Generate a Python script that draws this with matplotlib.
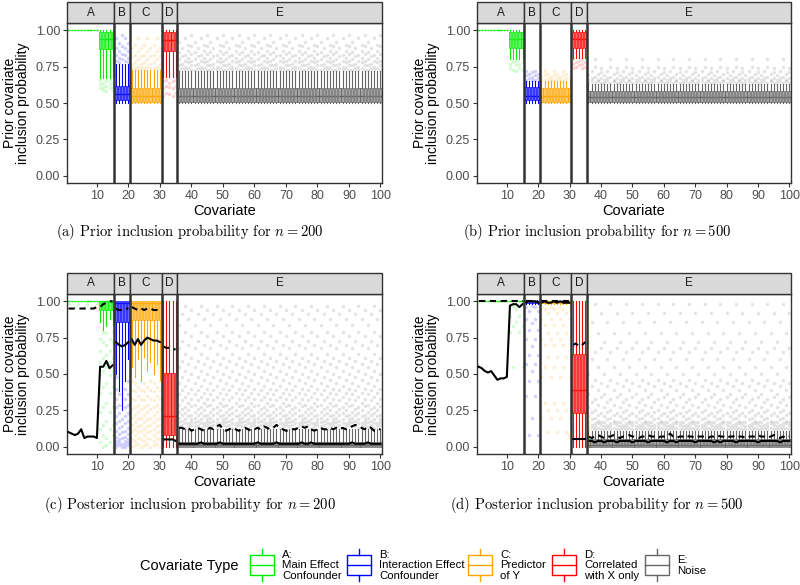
import matplotlib
matplotlib.use("Agg")
import matplotlib.pyplot as plt
import numpy as np
from matplotlib.colors import to_rgba
from matplotlib.patches import Rectangle
from matplotlib.transforms import blended_transform_factory

plt.rcParams['font.family'] = ['Liberation Sans', 'DejaVu Sans']
plt.rcParams['mathtext.fontset'] = 'cm'

# ---- data ---------------------------------------------------------------
covariates = np.arange(1, 101)
facet_names = ['A', 'B', 'C', 'D', 'E']
facet_first = [1, 16, 21, 31, 36]
facet_last = [15, 20, 30, 35, 100]
facet_colors = ['#00EE00', '#0000FF', '#FFA500', '#FF0000', '#666666']
legend_labels = ['A:\nMain Effect\nConfounder', 'B:\nInteraction Effect\nConfounder',
                 'C:\nPredictor\nof Y', 'D:\nCorrelated\nwith X only', 'E:\nNoise']

# box segments: A(1-10), A(11-15), B, C, D, E
seg_sizes = [10, 5, 5, 10, 5, 65]
seg_facet = [0, 0, 1, 2, 3, 4]

# (a) prior, n = 200
a_lo = [1.0, 0.67, 0.50, 0.50, 0.68, 0.50]
a_q1 = [1.0, 0.87, 0.52, 0.51, 0.86, 0.51]
a_med = [1.0, 0.94, 0.56, 0.55, 0.93, 0.55]
a_q3 = [1.0, 0.99, 0.62, 0.60, 0.99, 0.60]
a_hi = [1.0, 1.0, 0.77, 0.73, 1.0, 0.72]
a_out_A1 = [[]]
a_out_A2 = [[0.58, 0.62, 0.65], [0.60, 0.63, 0.66], [0.59, 0.61, 0.64]]
a_out_B = [[0.79, 0.83, 0.88, 0.95], [0.78, 0.81, 0.86, 0.91], [0.80, 0.84, 0.89, 0.97]]
a_out_C = [[0.74, 0.78, 0.83, 0.90], [0.75, 0.80, 0.86, 0.95], [0.74, 0.77, 0.82, 0.88]]
a_out_D = [[0.55, 0.60, 0.65], [0.57, 0.62, 0.66], [0.56, 0.61, 0.64]]
a_out_E = [[0.73, 0.76, 0.80, 0.85, 0.92], [0.74, 0.77, 0.82, 0.88],
           [0.73, 0.75, 0.79, 0.83, 0.95], [0.74, 0.78, 0.81, 0.86, 0.90],
           [0.73, 0.76, 0.79, 0.84, 0.89, 0.97]]

# (b) prior, n = 500
b_lo = [1.0, 0.80, 0.50, 0.50, 0.81, 0.50]
b_q1 = [1.0, 0.88, 0.52, 0.51, 0.88, 0.51]
b_med = [1.0, 0.94, 0.55, 0.55, 0.94, 0.54]
b_q3 = [1.0, 0.99, 0.61, 0.60, 0.99, 0.58]
b_hi = [1.0, 1.0, 0.65, 0.65, 1.0, 0.63]
b_out_A1 = [[]]
b_out_A2 = [[0.72, 0.76, 0.79], [0.74, 0.77], [0.73, 0.78]]
b_out_B = [[0.66, 0.69, 0.72], [0.67, 0.70], [0.66, 0.68, 0.71]]
b_out_C = [[0.66, 0.69, 0.72], [0.67, 0.70], [0.66, 0.68]]
b_out_D = [[0.74, 0.77, 0.80], [0.75, 0.78], [0.76, 0.79]]
b_out_E = [[0.64, 0.66, 0.69], [0.65, 0.67, 0.72], [0.64, 0.68, 0.75, 0.80],
           [0.65, 0.66, 0.70], [0.64, 0.67, 0.71, 0.74]]

# (c) posterior, n = 200
c_lo_cov = ([1.0] * 10 + [0.86, 0.80, 0.83, 0.88, 0.84] + [0.50, 0.38, 0.25, 0.45, 0.60]
            + [0.55, 0.48, 0.60, 0.45, 0.62, 0.52, 0.58, 0.50, 0.57, 0.46] + [0.0] * 5 + [0.0] * 65)
c_q1 = [1.0, 0.94, 0.86, 0.87, 0.08, 0.0]
c_med = [1.0, 1.0, 0.99, 0.99, 0.21, 0.01]
c_q3 = [1.0, 1.0, 1.0, 1.0, 0.51, 0.03]
c_hi = [1.0, 1.0, 1.0, 1.0, 1.0, 0.12]
c_out_A1 = [[0.98], [], [0.96]]
c_out_A2 = [[0.78, 0.70, 0.63, 0.55, 0.44, 0.30, 0.18, 0.06, 0.01],
            [0.74, 0.66, 0.58, 0.49, 0.37, 0.24, 0.12, 0.03],
            [0.79, 0.72, 0.61, 0.52, 0.41, 0.27, 0.15, 0.08, 0.0]]
c_out_B = [[0.48, 0.40, 0.33, 0.27, 0.21, 0.16, 0.11, 0.07, 0.04, 0.02, 0.0],
           [0.45, 0.36, 0.29, 0.23, 0.18, 0.13, 0.09, 0.05, 0.03, 0.01],
           [0.42, 0.34, 0.25, 0.19, 0.14, 0.10, 0.06, 0.02, 0.0]]
c_out_C = [[0.44, 0.38, 0.32, 0.27, 0.22, 0.17, 0.12, 0.08, 0.04, 0.01],
           [0.41, 0.35, 0.29, 0.24, 0.19, 0.14, 0.10, 0.06, 0.02],
           [0.45, 0.39, 0.33, 0.26, 0.20, 0.15, 0.11, 0.05, 0.0]]
c_out_D = [[]]
c_out_E = [[0.14, 0.17, 0.20, 0.24, 0.29, 0.36, 0.44, 0.55, 0.68, 0.84],
           [0.15, 0.18, 0.22, 0.26, 0.32, 0.39, 0.48, 0.59, 0.73, 0.91],
           [0.13, 0.16, 0.19, 0.23, 0.27, 0.34, 0.42, 0.52, 0.64, 0.79, 0.97],
           [0.14, 0.16, 0.21, 0.25, 0.30, 0.37, 0.46, 0.57, 0.70, 0.88],
           [0.15, 0.17, 0.19, 0.22, 0.28, 0.33, 0.40, 0.50, 0.61, 0.76, 0.94]]
c_solid = ([0.10, 0.09, 0.08, 0.09, 0.12, 0.06, 0.07, 0.07, 0.07, 0.06, 0.55, 0.55, 0.59, 0.54, 0.56]
           + [0.72, 0.70, 0.69, 0.70, 0.72]
           + [0.74, 0.70, 0.74, 0.70, 0.73, 0.75, 0.74, 0.73, 0.73, 0.72]
           + [0.05, 0.05, 0.05, 0.05, 0.04]
           + [0.02, 0.02, 0.02, 0.02, 0.02, 0.02, 0.02, 0.03, 0.02, 0.02, 0.02, 0.02, 0.02,
              0.03, 0.02, 0.02, 0.02, 0.02, 0.02, 0.02, 0.02, 0.02, 0.02, 0.02, 0.02, 0.03,
              0.02, 0.02, 0.02, 0.02, 0.02, 0.03, 0.02, 0.02, 0.02, 0.02, 0.02, 0.02, 0.02,
              0.03, 0.02, 0.02, 0.03, 0.02, 0.02, 0.02, 0.02, 0.02, 0.02, 0.02, 0.02, 0.02,
              0.02, 0.02, 0.02, 0.03, 0.02, 0.02, 0.02, 0.02, 0.03, 0.02, 0.02, 0.02, 0.02])
c_dashed = ([0.95, 0.95, 0.95, 0.95, 0.95, 0.95, 0.95, 0.95, 0.95, 0.96, 0.96, 0.98, 0.99, 1.0, 1.0]
            + [0.95, 0.94, 0.94, 0.95, 0.95]
            + [0.96, 0.95, 0.94, 0.95, 0.94, 0.95, 0.95, 0.94, 0.94, 0.93]
            + [0.69, 0.68, 0.68, 0.67, 0.67]
            + [0.13, 0.13, 0.12, 0.13, 0.11, 0.12, 0.13, 0.12, 0.11, 0.12, 0.13, 0.12, 0.14,
               0.15, 0.12, 0.11, 0.12, 0.13, 0.12, 0.11, 0.12, 0.13, 0.12, 0.11, 0.12, 0.13,
               0.12, 0.14, 0.13, 0.12, 0.13, 0.15, 0.13, 0.12, 0.11, 0.11, 0.12, 0.12, 0.13,
               0.14, 0.13, 0.14, 0.12, 0.11, 0.12, 0.13, 0.12, 0.12, 0.13, 0.12, 0.13, 0.12,
               0.13, 0.12, 0.13, 0.14, 0.15, 0.14, 0.13, 0.12, 0.14, 0.13, 0.11, 0.12, 0.12])

# (d) posterior, n = 500
d_lo = [1.0, 1.0, 0.98, 0.98, 0.0, 0.0]
d_q1 = [1.0, 1.0, 0.99, 0.99, 0.23, 0.0]
d_med = [1.0, 1.0, 1.0, 1.0, 0.39, 0.01]
d_q3 = [1.0, 1.0, 1.0, 1.0, 0.64, 0.05]
d_hi = [1.0, 1.0, 1.0, 1.0, 1.0, 0.11]
d_out_A1 = [[]]
d_out_A2 = [[0.95, 0.86], [0.90, 0.79], [0.97, 0.83, 0.55]]
d_out_B = [[0.96, 0.88, 0.74, 0.57, 0.35], [0.93, 0.80, 0.63, 0.45, 0.08],
           [0.97, 0.85, 0.69, 0.52, 0.20]]
d_out_C = [[0.95, 0.84, 0.70, 0.55, 0.30], [0.92, 0.78, 0.62, 0.25, 0.10],
           [0.96, 0.88, 0.74, 0.48, 0.20]]
d_out_D = [[]]
d_out_E = [[0.12, 0.14, 0.17, 0.21, 0.27, 0.36, 0.50, 0.72],
           [0.13, 0.15, 0.19, 0.24, 0.31, 0.42, 0.60, 0.86],
           [0.12, 0.14, 0.16, 0.20, 0.25, 0.33, 0.46, 0.65, 0.98],
           [0.13, 0.16, 0.18, 0.22, 0.29, 0.39, 0.55, 0.78],
           [0.12, 0.15, 0.17, 0.23, 0.34, 0.44, 0.68, 0.92]]
d_solid = ([0.55, 0.54, 0.52, 0.51, 0.52, 0.49, 0.46, 0.47, 0.47, 0.48, 0.97, 0.98, 0.98, 0.96, 0.98]
           + [0.99, 1.0, 1.0, 1.0, 0.99]
           + [0.99, 1.0, 0.99, 0.99, 1.0, 0.99, 1.0, 0.99, 0.99, 0.99]
           + [0.05, 0.05, 0.05, 0.05, 0.05]
           + [0.04, 0.04, 0.03, 0.04, 0.04, 0.03, 0.04, 0.04, 0.04, 0.03, 0.04, 0.04, 0.04,
              0.04, 0.03, 0.04, 0.04, 0.04, 0.04, 0.03, 0.04, 0.04, 0.04, 0.04, 0.04, 0.03,
              0.04, 0.04, 0.03, 0.04, 0.04, 0.04, 0.04, 0.04, 0.03, 0.04, 0.04, 0.04, 0.04,
              0.04, 0.03, 0.04, 0.03, 0.04, 0.04, 0.04, 0.04, 0.03, 0.04, 0.04, 0.04, 0.04,
              0.04, 0.04, 0.03, 0.04, 0.04, 0.04, 0.04, 0.04, 0.04, 0.03, 0.04, 0.04, 0.04])
d_dashed = ([1.0] * 15 + [1.0] * 5 + [1.0] * 10
            + [0.70, 0.71, 0.69, 0.70, 0.72]
            + [0.07, 0.06, 0.07, 0.08, 0.07, 0.06, 0.07, 0.07, 0.08, 0.07, 0.06, 0.07, 0.07,
               0.08, 0.07, 0.07, 0.06, 0.07, 0.07, 0.08, 0.07, 0.07, 0.06, 0.07, 0.07, 0.07,
               0.09, 0.07, 0.06, 0.07, 0.07, 0.08, 0.07, 0.07, 0.06, 0.07, 0.07, 0.07, 0.06,
               0.07, 0.07, 0.08, 0.07, 0.07, 0.06, 0.07, 0.07, 0.08, 0.07, 0.07, 0.06, 0.07,
               0.07, 0.07, 0.08, 0.07, 0.07, 0.06, 0.07, 0.08, 0.07, 0.06, 0.07, 0.06, 0.07])

y_ticks = [0.0, 0.25, 0.5, 0.75, 1.0]
y_ticklabels = ['0.00', '0.25', '0.50', '0.75', '1.00']
x_ticks = [10, 20, 30, 40, 50, 60, 70, 80, 90, 100]


# ---- drawing ------------------------------------------------------------
W, H = 800, 585
fig = plt.figure(figsize=(W / 100, H / 100), dpi=100)


def px_axes(left, top, right, bottom):
    return fig.add_axes([left / W, 1 - bottom / H, (right - left) / W, (bottom - top) / H])


def draw_panel(ax, lo, q1, med, q3, hi, outs, ylabel, solid=None, dashed=None):
    lo = np.asarray(lo if len(lo) == 100 else np.repeat(lo, seg_sizes))
    q1 = np.repeat(q1, seg_sizes)
    med = np.repeat(med, seg_sizes)
    q3 = np.repeat(q3, seg_sizes)
    hi = np.repeat(hi, seg_sizes)
    start = 0
    for s, n in enumerate(seg_sizes):
        col = facet_colors[seg_facet[s]]
        stats = []
        for k in range(start, start + n):
            variant = outs[s][k % len(outs[s])]
            fl = [v for v in variant if v < lo[k] or v > hi[k]]
            stats.append(dict(whislo=lo[k], q1=q1[k], med=med[k], q3=q3[k],
                              whishi=hi[k], fliers=fl))
        ax.bxp(stats, positions=covariates[start:start + n], widths=0.72,
               patch_artist=True, showcaps=False, manage_ticks=False,
               boxprops=dict(facecolor=to_rgba(col, 0.6), edgecolor=col, linewidth=0.5),
               whiskerprops=dict(color=col, linewidth=0.8),
               medianprops=dict(color=col, linewidth=1.0),
               flierprops=dict(marker='o', markersize=2.5, markerfacecolor=col,
                               markeredgecolor='none', alpha=0.18))
        start += n

    for f0, f1 in zip(facet_first, facet_last):
        sl = slice(f0 - 1, f1)
        if solid is not None:
            ax.plot(covariates[sl], np.asarray(solid)[sl], color='black', lw=1.5, zorder=5)
        if dashed is not None:
            ax.plot(covariates[sl], np.asarray(dashed)[sl], color='black', lw=1.5,
                    dashes=(3, 2.2), zorder=5)

    ax.set_xlim(0.5, 100.5)
    ax.set_ylim(-0.05, 1.05)
    ax.set_yticks(y_ticks)
    ax.set_yticklabels(y_ticklabels)
    ax.set_xticks(x_ticks)
    ax.tick_params(colors='#333333', labelcolor='#4D4D4D', labelsize=9, length=3,
                   width=0.8, pad=2)
    for sp in ax.spines.values():
        sp.set_color('#333333')
        sp.set_linewidth(1.0)
    for b in facet_last[:-1]:
        ax.axvline(b + 0.5, color='#333333', lw=1.8, zorder=6)
    ax.set_xlabel('Covariate', fontsize=10.5)
    ax.xaxis.label.set_va('center')
    ax.xaxis.set_label_coords(0.5, -0.178)
    ax.set_ylabel(ylabel, fontsize=10, linespacing=0.95)
    ax.yaxis.label.set_va('center')
    ax.yaxis.set_label_coords(-0.16, 0.5)

    # facet strips
    tr = blended_transform_factory(ax.transData, ax.transAxes)
    for name, f0, f1 in zip(facet_names, facet_first, facet_last):
        ax.add_patch(Rectangle((f0 - 0.5, 1.0), f1 - f0 + 1, 21 / 160, transform=tr,
                               facecolor='#D9D9D9', edgecolor='#333333', lw=1.0,
                               clip_on=False, zorder=7))
        ax.text((f0 + f1) / 2, 1.0 + 10.5 / 160, name, transform=tr, ha='center',
                va='center', fontsize=8.5, color='#1A1A1A', zorder=8)


ax_a = px_axes(67, 23, 382, 183)
draw_panel(ax_a, a_lo, a_q1, a_med, a_q3, a_hi,
           [a_out_A1, a_out_A2, a_out_B, a_out_C, a_out_D, a_out_E],
           'Prior covariate\ninclusion probability')
ax_b = px_axes(477, 23, 791, 183)
draw_panel(ax_b, b_lo, b_q1, b_med, b_q3, b_hi,
           [b_out_A1, b_out_A2, b_out_B, b_out_C, b_out_D, b_out_E],
           'Prior covariate\ninclusion probability')
ax_c = px_axes(67, 294, 382, 454)
draw_panel(ax_c, c_lo_cov, c_q1, c_med, c_q3, c_hi,
           [c_out_A1, c_out_A2, c_out_B, c_out_C, c_out_D, c_out_E],
           'Posterior covariate\ninclusion probability', c_solid, c_dashed)
ax_d = px_axes(477, 294, 791, 454)
draw_panel(ax_d, d_lo, d_q1, d_med, d_q3, d_hi,
           [d_out_A1, d_out_A2, d_out_B, d_out_C, d_out_D, d_out_E],
           'Posterior covariate\ninclusion probability', d_solid, d_dashed)

# captions
cap_kw = dict(ha='center', va='center', fontsize=10.5, family='cmr10')
fig.text(190 / W, 1 - 232 / H, '(a) Prior inclusion probability for $n = 200$', **cap_kw)
fig.text(597 / W, 1 - 232 / H, '(b) Prior inclusion probability for $n = 500$', **cap_kw)
fig.text(190 / W, 1 - 505 / H, '(c) Posterior inclusion probability for $n = 200$', **cap_kw)
fig.text(597 / W, 1 - 505 / H, '(d) Posterior inclusion probability for $n = 500$', **cap_kw)

# legend drawn in pixel space
lax = fig.add_axes([0, 0, 1, 1])
lax.set_xlim(0, W)
lax.set_ylim(H, 0)
lax.axis('off')
lax.patch.set_alpha(0)
lax.text(238, 566, 'Covariate Type', ha='right', va='center', fontsize=10.5, color='black')
key_x = [250, 347, 468, 552, 645]
for kx, col, lab in zip(key_x, facet_colors, legend_labels):
    lax.add_patch(Rectangle((kx, 555), 24, 20, facecolor='white', edgecolor=col, lw=1.0))
    lax.plot([kx, kx + 24], [565, 565], color=col, lw=1.0)
    lax.plot([kx + 12, kx + 12], [549, 555], color=col, lw=1.0)
    lax.plot([kx + 12, kx + 12], [575, 581], color=col, lw=1.0)
    lax.text(kx + 32, 565.5, lab, ha='left', va='center', fontsize=8.2, linespacing=1.05)

fig.savefig('out.png', dpi=100)
